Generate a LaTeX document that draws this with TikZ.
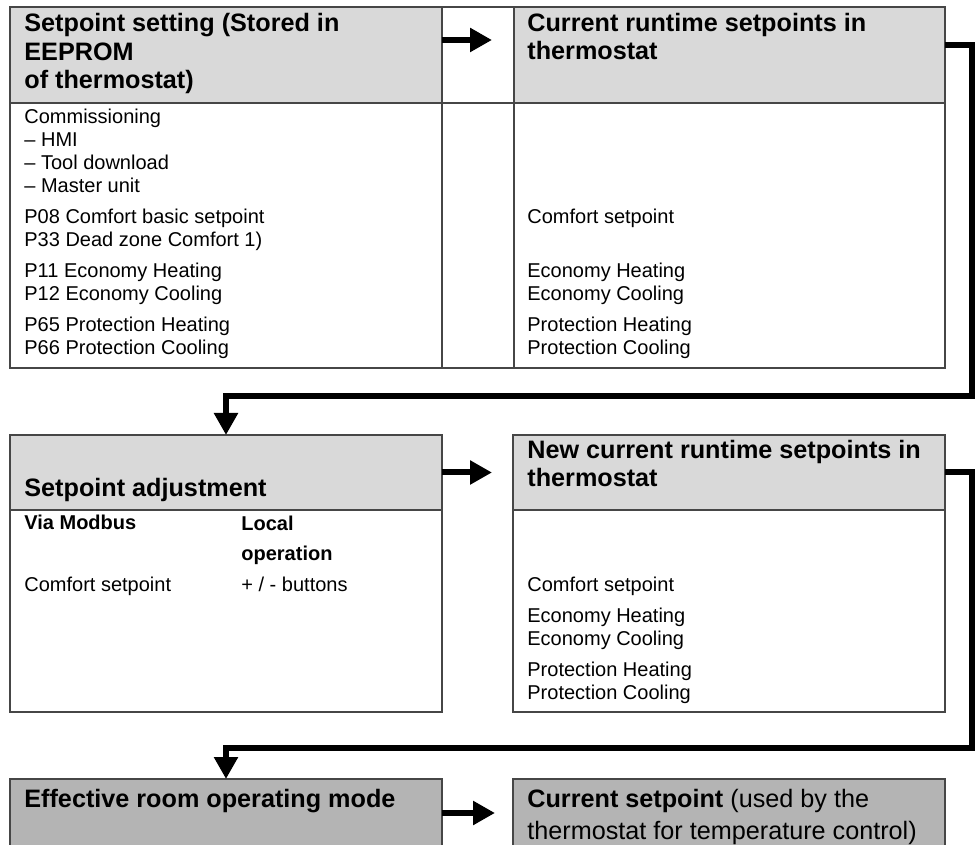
\documentclass[tikz,border=0pt]{standalone}
\usepackage{fontspec}
\setmainfont{Liberation Sans}
\usetikzlibrary{positioning,arrows.meta,calc}
\definecolor{headgrey}{RGB}{217,217,217}
\definecolor{modegrey}{RGB}{180,180,180}
\definecolor{rulecolor}{RGB}{70,70,70}

\begin{document}
\begin{tikzpicture}[
    x=0.5pt, y=-0.5pt,
    >={Triangle[length=11pt,width=11.5pt]},
    cell/.style={draw=rulecolor, line width=0.7pt, inner sep=0pt, outer sep=0pt, anchor=north west},
    headcell/.style={cell, fill=headgrey},
    modecell/.style={cell, fill=modegrey},
    headtext/.style={anchor=base west, align=left, inner sep=0pt, font=\fontsize{12.6}{14.25}\selectfont\bfseries},
    bodytext/.style={anchor=base west, align=left, inner sep=0pt, font=\fontsize{10}{11.5}\selectfont},
    bodybold/.style={bodytext, font=\fontsize{10}{15}\selectfont\bfseries},
    flow/.style={->, line width=3pt}
]

% Coordinates in pixels of the 976x845 sheet, y pointing down
% (text nodes sit on the baseline of their last line)
\def\px{0.5pt}
\useasboundingbox (0,0) rectangle (976,845);

% Top table: stored setpoints -> runtime setpoints
\node[headcell, minimum width=432*\px, minimum height=96*\px] (sethead) at (10,7) {};
\node[cell, minimum width=432*\px, minimum height=265*\px, below=0pt of sethead] (setbody) {};
\node[cell, minimum width=72*\px, minimum height=96*\px, right=0pt of sethead] (gaphead) {};
\node[cell, minimum width=72*\px, minimum height=265*\px, below=0pt of gaphead] (gapbody) {};
\node[headcell, minimum width=431*\px, minimum height=96*\px, right=0pt of gaphead] (curhead) {};
\node[cell, minimum width=431*\px, minimum height=265*\px, below=0pt of curhead] (curbody) {};

\node[headtext] (settitle) at (24,89) {Setpoint setting (Stored in\\EEPROM\\of thermostat)};
\node[headtext] (curtitle) at (527,60) {Current runtime setpoints in\\thermostat};

\node[bodytext] (commtext) at (24,193) {Commissioning\\\textendash{} HMI\\\textendash{} Tool download\\\textendash{} Master unit};
\node[bodytext] (comftext) at (24,247) {P08 Comfort basic setpoint\\P33 Dead zone Comfort 1)};
\node[bodytext] (ecotext) at (24,301) {P11 Economy Heating\\P12 Economy Cooling};
\node[bodytext] (prottext) at (24,355) {P65 Protection Heating\\P66 Protection Cooling};
\node[bodytext] (curcomf) at (527,224) {Comfort setpoint};
\node[bodytext] (cureco) at (527,301) {Economy Heating\\Economy Cooling};
\node[bodytext] (curprot) at (527,355) {Protection Heating\\Protection Cooling};

% Middle row: adjustment -> new runtime setpoints
\node[headcell, minimum width=432*\px, minimum height=75*\px] (adjhead) at (10,435) {};
\node[cell, minimum width=432*\px, minimum height=202*\px, below=0pt of adjhead] (adjbody) {};
\node[headcell, minimum width=432*\px, minimum height=75*\px] (newhead) at (513,435) {};
\node[cell, minimum width=432*\px, minimum height=202*\px, below=0pt of newhead] (newbody) {};

\node[headtext] (adjtitle) at (24,497) {Setpoint adjustment};
\node[headtext] (newtitle) at (527,487) {New current runtime setpoints in\\thermostat};

\node[bodybold] (modbus) at (24,530) {Via Modbus};
\node[bodybold] (localop) at (241,560) {Local\\operation};
\node[bodytext] (viacomf) at (24,592) {Comfort setpoint};
\node[bodytext] (buttons) at (241,592) {+ / - buttons};
\node[bodytext] (newcomf) at (527,592) {Comfort setpoint};
\node[bodytext] (neweco) at (527,646) {Economy Heating\\Economy Cooling};
\node[bodytext] (newprot) at (527,699) {Protection Heating\\Protection Cooling};

% Bottom row: operating mode -> current setpoint
\node[modecell, minimum width=432*\px, minimum height=68*\px] (modehead) at (10,779) {};
\node[modecell, minimum width=432*\px, minimum height=68*\px] (spthead) at (513,779) {};

\node[headtext] (modetitle) at (24,807) {Effective room operating mode};
\node[headtext, font=\fontsize{12.6}{16}\selectfont] (spttitle) at (527,839) {\textbf{Current setpoint} (used by the\\thermostat for temperature control)};

% Flow arrows
\coordinate (loopA) at (972,396);
\coordinate (loopB) at (972,748);
\draw[flow, shorten >=11pt] ($(sethead.east)+(0,-15)$) -- ($(curhead.west)+(0,-15)$);
\draw[flow] ($(curhead.east)+(0,-10)$) -| (loopA) -| (adjhead.north);
\draw[flow, shorten >=10.5pt] (adjhead.east) -- (newhead.west);
\draw[flow] (newhead.east) -| (loopB) -| (modehead.north);
\draw[flow, shorten >=9pt] (modehead.east) -- (spthead.west);

\end{tikzpicture}
\end{document}
